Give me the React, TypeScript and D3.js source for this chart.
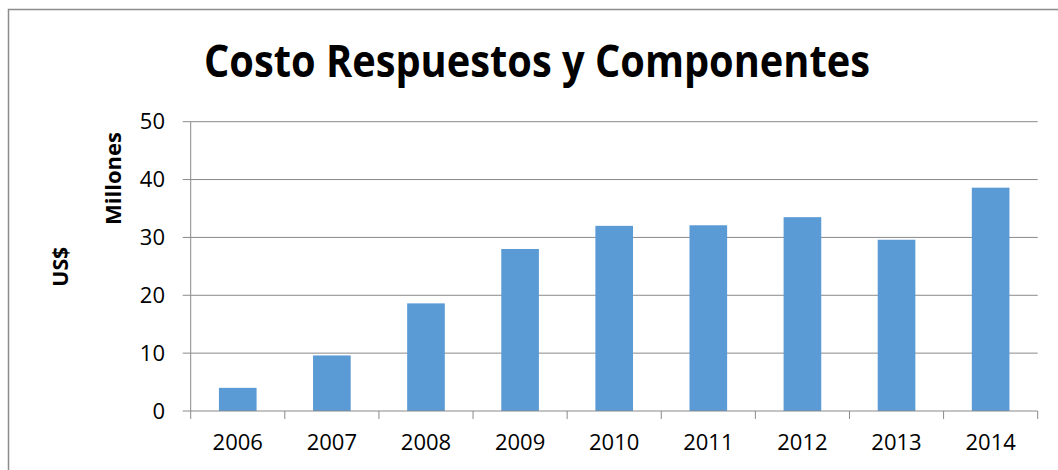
import React from "react";
import * as d3 from "d3";

const years = ["2006", "2007", "2008", "2009", "2010", "2011", "2012", "2013", "2014"];
const costs = [4.0, 9.6, 18.6, 28.0, 32.0, 32.1, 33.5, 29.6, 38.6];
const yTicks = [0, 10, 20, 30, 40, 50];
const title = "Costo Respuestos y Componentes";
const yTitleInner = "Millones";
const yTitleOuter = "US$";

const W = 1058;
const H = 470;
const left = 190.7;
const right = 1037.7;
const top = 121.7;
const bottom = 411;
const font = "'Open Sans', 'Noto Sans', sans-serif";

export default function App() {
  const x = d3.scaleBand<string>().domain(years).range([left, right]).paddingInner(0.6).paddingOuter(0.3);
  const y = d3.scaleLinear().domain([0, 50]).range([bottom, top]);
  const step = (right - left) / years.length;
  const gray = "#898989";

  return (
    <svg width={W} height={H} style={{ position: "absolute", left: 0, top: 0, background: "#fff" }}>
      <rect x={0} y={0} width={W} height={H} fill="#fff" />
      <rect x={8.5} y={9.5} width={1200} height={600} fill="none" stroke="#8c8c8c" strokeWidth={1.5} />
      <text
        x={204}
        y={77}
        fontFamily={font}
        fontWeight="bold"
        fontSize={44}
        textLength={666}
        lengthAdjust="spacingAndGlyphs"
        fill="#000"
      >
        {title}
      </text>
      {yTicks.map((t) => (
        <g key={t}>
          {t > 0 && <line x1={left} x2={right} y1={y(t)} y2={y(t)} stroke={gray} strokeWidth={1} />}
          <line x1={left - 8} x2={left} y1={y(t)} y2={y(t)} stroke={gray} strokeWidth={1} />
          <text x={165} y={y(t)} dy="0.35em" textAnchor="end" fontFamily={font} fontSize={22} fill="#000">
            {t}
          </text>
        </g>
      ))}
      {years.map((yr, i) => (
        <rect
          key={yr}
          x={x(yr)}
          y={y(costs[i])}
          width={x.bandwidth()}
          height={bottom - y(costs[i])}
          fill="#5b9bd5"
        />
      ))}
      <line x1={left} x2={left} y1={top} y2={bottom} stroke={gray} strokeWidth={1} />
      <line x1={left} x2={right} y1={bottom} y2={bottom} stroke={gray} strokeWidth={1} />
      {d3.range(years.length + 1).map((i) => (
        <line
          key={i}
          x1={left + i * step}
          x2={left + i * step}
          y1={bottom}
          y2={bottom + 8}
          stroke={gray}
          strokeWidth={1}
        />
      ))}
      {years.map((yr) => (
        <text
          key={yr}
          x={(x(yr) as number) + x.bandwidth() / 2}
          y={450}
          textAnchor="middle"
          fontFamily={font}
          fontSize={22}
          fill="#000"
        >
          {yr}
        </text>
      ))}
      <text
        transform={`translate(121,178.5) rotate(-90)`}
        textAnchor="middle"
        fontFamily={font}
        fontWeight="bold"
        fontSize={21}
        textLength={93}
        lengthAdjust="spacingAndGlyphs"
        fill="#000"
      >
        {yTitleInner}
      </text>
      <text
        transform={`translate(68,266.7) rotate(-90)`}
        textAnchor="middle"
        fontFamily={font}
        fontWeight="bold"
        fontSize={21}
        textLength={40}
        lengthAdjust="spacingAndGlyphs"
        fill="#000"
      >
        {yTitleOuter}
      </text>
    </svg>
  );
}
